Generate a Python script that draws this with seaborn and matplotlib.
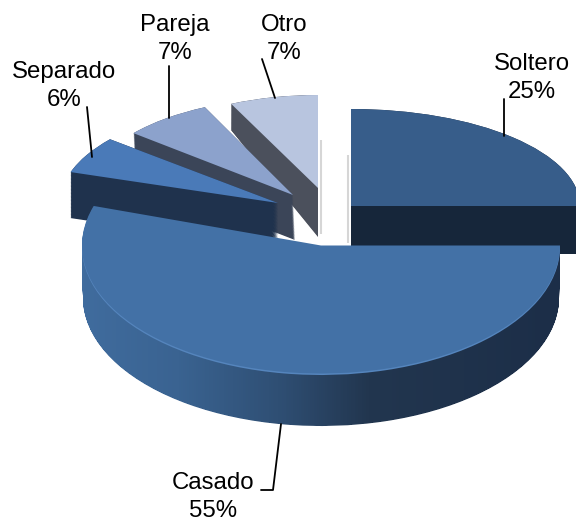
import numpy as np
import seaborn as sns
import matplotlib
matplotlib.use("Agg")
import matplotlib.pyplot as plt
from matplotlib.colors import LinearSegmentedColormap
from matplotlib.path import Path
from matplotlib.transforms import Affine2D

labels = ["Soltero", "Casado", "Separado", "Pareja", "Otro"]
shares = [25, 55, 6, 7, 7]

top_colors = ["#375d8a", "#4371a6", "#4a7ab8", "#8ca2cc", "#b8c5df"]
wall_colors = ["#16263a", "#1c2e48", "#1f324d", "#3b4558", "#4b505c"]

# top face and bottom face of each slice in pixels: centre x, centre y, x radius, y radius
top_faces = [(351, 206, 229, 97), (321, 247, 239, 128), (278, 203, 218, 100),
             (293, 195, 207, 97), (318, 188, 204, 93)]
bottom_faces = [(351, 254, 229, 97), (321, 298, 238, 128), (278, 249, 218, 100),
                (295, 240, 207, 97), (318, 237, 204, 118)]

# text centres and leader lines in pixels
label_pos = [(532, 78), (213, 497), (64, 86), (175, 39), (284, 39)]
leaders = [
    [(504, 99), (504, 136)],
    [(281, 424), (273, 490), (261, 490)],
    [(87, 107), (92, 157)],
    [(169, 66), (169, 118)],
    [(262, 59), (275, 98)],
]

W, H = 576, 522

sns.set_theme(style="white")
plt.rcParams["font.family"] = ["Liberation Sans", "DejaVu Sans"]

fig = plt.figure(figsize=(W / 100, H / 100), dpi=100)
ax = fig.add_axes([0, 0, 1, 1])


def face_transform(face):
    cx, cy, a, b = face
    return Affine2D().scale(a, -b).translate(cx, cy)


def draw_slice(i, face, color, z):
    wedges, _ = ax.pie(shares, startangle=90, counterclock=False)
    for j, w in enumerate(wedges):
        if j != i:
            w.remove()
    w = wedges[i]
    w.set_transform(face_transform(face) + ax.transData)
    w.set_facecolor(color)
    w.set_edgecolor("none")
    w.set_zorder(z)
    return w


def layers(i, n=60):
    start = np.array(top_faces[i], dtype=float)
    end = np.array(bottom_faces[i], dtype=float)
    return [tuple(start + (end - start) * t) for t in np.linspace(1, 0, n)]


# soft shadows behind the back slices
ax.plot([347.5, 347.5], [155, 243], color="#d6d6d6", lw=1.5, zorder=0.5, solid_capstyle="butt")
ax.plot([320.5, 320.5], [140, 234], color="#d6d6d6", lw=1.5, zorder=0.5, solid_capstyle="butt")

# back to front, the big slice goes last
z_order = {0: 1, 4: 2, 3: 3, 2: 4, 1: 5}
for i in [0, 4, 3, 2]:
    for face in layers(i):
        draw_slice(i, face, wall_colors[i], z_order[i])
    draw_slice(i, top_faces[i], top_colors[i], z_order[i] + 0.5)

# the wall of the big slice is shaded from left to right
paths = []
for face in layers(1):
    w = draw_slice(1, face, wall_colors[1], 5)
    paths.append(w.get_path().transformed(face_transform(face)))
    w.remove()
wall_clip = Path.make_compound_path(*paths)
stops = [(0.0, "#406c9e"), (0.2, "#3a6391"), (0.41, "#2f4f74"), (0.6, "#22364f"), (1.0, "#1c2e48")]
shade = LinearSegmentedColormap.from_list("wall", stops)
img = ax.imshow(np.linspace(0, 1, 478)[None, :], cmap=shade, extent=(82, 560, H, 0),
                aspect="auto", zorder=5)
img.set_clip_path(wall_clip, ax.transData)

# light rim along the front edge of the big slice
cx, cy, a, b = top_faces[1]
draw_slice(1, (cx, cy, a, b), "#5585bd", 5.4)
draw_slice(1, (cx, cy - 1.5, a, b), top_colors[1], 5.5)

for name, share, pos, line in zip(labels, shares, label_pos, leaders):
    ax.text(pos[0], pos[1], f"{name}\n{share}%", ha="center", va="center",
            fontsize=17.3, color="black", linespacing=1.36, zorder=8)
    xs, ys = zip(*line)
    ax.plot(xs, ys, color="black", lw=1.3, zorder=7)

ax.set_aspect("auto")
ax.set_xlim(0, W)
ax.set_ylim(H, 0)
ax.axis("off")

fig.savefig("out.png", dpi=100)
